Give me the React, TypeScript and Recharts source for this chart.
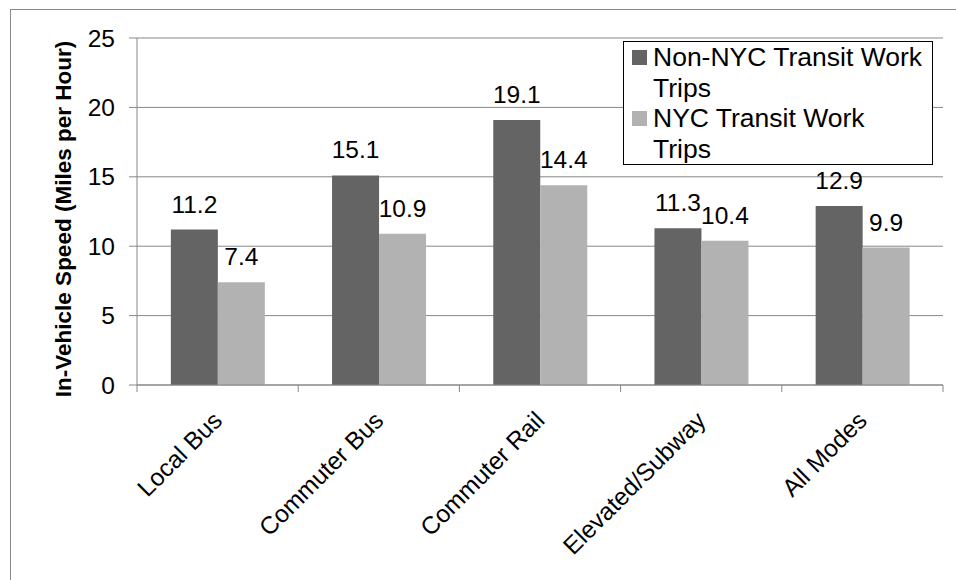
import { BarChart, Bar, XAxis, YAxis, CartesianGrid, LabelList } from 'recharts';

const categories = ['Local Bus', 'Commuter Bus', 'Commuter Rail', 'Elevated/Subway', 'All Modes'];
const nonNycTrips = [11.2, 15.1, 19.1, 11.3, 12.9];
const nycTrips = [7.4, 10.9, 14.4, 10.4, 9.9];
const yTicks = [0, 5, 10, 15, 20, 25];

const seriesNames = ['Non-NYC Transit Work Trips', 'NYC Transit Work Trips'];
const colors = ['#646464', '#b2b2b2'];

const data = categories.map((name, i) => ({
  name,
  nonNyc: nonNycTrips[i],
  nyc: nycTrips[i],
}));

const FONT = '"Liberation Sans", Arial, sans-serif';
const GRID = '#878787';

// category width in px, so the x ticks sit on the band edges like Excel
const BAND = (943 - 137) / categories.length;

function XTick(props: any) {
  const { x, y, payload, index } = props;
  const left = x - BAND / 2;
  const tx = x + 6;
  const ty = y + 29;
  return (
    <g>
      <line x1={left} y1={y - 8} x2={left} y2={y - 1} stroke={GRID} />
      {index === categories.length - 1 && (
        <line x1={left + BAND} y1={y - 8} x2={left + BAND} y2={y - 1} stroke={GRID} />
      )}
      <text
        x={tx}
        y={ty}
        textAnchor="end"
        transform={`rotate(-45 ${tx} ${ty})`}
        fontSize={24.5}
        fontFamily={FONT}
        fill="#000"
      >
        {payload.value}
      </text>
    </g>
  );
}

function LegendBox() {
  return (
    <div
      style={{
        position: 'absolute',
        left: 623,
        top: 41,
        width: 310,
        height: 124,
        border: '1.5px solid #000',
        background: '#fff',
        boxSizing: 'border-box',
        padding: '0 0 0 8px',
        fontFamily: FONT,
        fontSize: 26.5,
        lineHeight: '30.5px',
        color: '#000',
        whiteSpace: 'nowrap',
      }}
    >
      {seriesNames.map((s, i) => {
        // Excel wraps the last word onto a second line
        const cut = s.lastIndexOf(' ');
        return (
          <div key={s} style={{ display: 'flex', alignItems: 'flex-start' }}>
            <div
              style={{
                width: 15,
                height: 15,
                background: colors[i],
                marginTop: 8,
                marginRight: 6,
                flexShrink: 0,
              }}
            />
            <div>
              {s.slice(0, cut)}
              <br />
              {s.slice(cut + 1)}
            </div>
          </div>
        );
      })}
    </div>
  );
}

export default function App() {
  return (
    <div style={{ position: 'absolute', left: 0, top: 0, width: 956, height: 580, overflow: 'hidden', background: '#fff' }}>
      <div
        style={{
          position: 'absolute',
          left: 10,
          top: 9,
          width: 960,
          height: 600,
          border: '1.5px solid #8a8a8a',
        }}
      />
      <div style={{ position: 'absolute', left: 0, top: 0 }}>
        <BarChart
          width={956}
          height={580}
          data={data}
          margin={{ top: 38, right: 13, left: 77, bottom: 75 }}
          barCategoryGap="21%"
          barGap={0}
        >
          <CartesianGrid vertical={false} stroke={GRID} strokeWidth={1} />
          <XAxis
            dataKey="name"
            height={120}
            stroke={GRID}
            tickLine={false}
            interval={0}
            tick={<XTick />}
          />
          <YAxis
            width={60}
            domain={[0, 25]}
            ticks={yTicks}
            stroke={GRID}
            tickSize={8}
            tickMargin={14}
            tick={{ fontSize: 24.5, fontFamily: FONT, fill: '#000' }}
            label={{
              content: () => (
                <text
                  x={71}
                  y={219}
                  transform="rotate(-90 71 219)"
                  textAnchor="middle"
                  fontSize={22.5}
                  fontWeight="bold"
                  fontFamily={FONT}
                  fill="#000"
                >
                  In-Vehicle Speed (Miles per Hour)
                </text>
              ),
            }}
          />
          <YAxis
            yAxisId="frame"
            orientation="right"
            width={0}
            domain={[0, 25]}
            ticks={yTicks}
            tick={false}
            tickLine={false}
            stroke="#b8b8b8"
            strokeWidth={2}
          />
          <Bar dataKey="nonNyc" name={seriesNames[0]} fill={colors[0]} isAnimationActive={false}>
            <LabelList dataKey="nonNyc" position="top" offset={17} fontSize={24.5} fontFamily={FONT} fill="#000" />
          </Bar>
          <Bar dataKey="nyc" name={seriesNames[1]} fill={colors[1]} isAnimationActive={false}>
            <LabelList dataKey="nyc" position="top" offset={17} fontSize={24.5} fontFamily={FONT} fill="#000" />
          </Bar>
        </BarChart>
      </div>
      <LegendBox />
    </div>
  );
}
